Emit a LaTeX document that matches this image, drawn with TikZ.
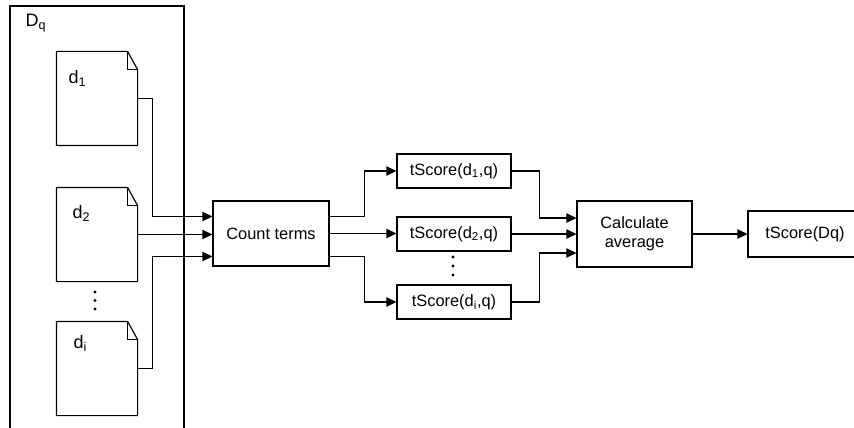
\documentclass[tikz,border=0pt]{standalone}
\usepackage{fontspec}
\setmainfont{Liberation Sans}
\usetikzlibrary{arrows.meta}
\begin{document}
\begin{tikzpicture}[x=0.75pt,y=-0.75pt,line width=0.85pt,
                    box/.style={draw,inner sep=2pt,align=center,font=\fontsize{12.3}{14.4}\selectfont},
                    score/.style={box,minimum width=85.5pt,minimum height=25.5pt},
                    docpage/.style={minimum width=60pt,minimum height=69.75pt,inner sep=0pt},
                    doclabel/.style={anchor=north west,inner sep=0pt,font=\fontsize{13.5}{16}\selectfont},
                    flow/.style={-{Triangle[length=7.5pt,width=7pt]}}]
                    \useasboundingbox (0,0) rectangle (854,428);
                    \clip (0,0) rectangle (854,428);
                    % collection of documents
                    \draw (10,440) -- (10,6) -- (184,6) -- (184,440);
                    \node[doclabel] (dq) at (25,14) {D\textsubscript{q}};
                    \node[docpage] (d1) at (97,98.5) {};
                    \node[docpage] (d2) at (97,234.5) {};
                    \node[docpage] (di) at (97,368.5) {};
                    \foreach \d in {d1,d2,di} {
                        \draw (\d.south west) -- (\d.north west) -- ([shift={(-10,0)}]\d.north east)
                              -- ([shift={(0,18)}]\d.north east) -- (\d.south east) -- cycle;
                        \draw ([shift={(-10,0)}]\d.north east) |- ([shift={(0,18)}]\d.north east);
                    }
                    \node[doclabel] (l1) at (68,70) {d\textsubscript{1}};
                    \node[doclabel] (l2) at (72,205) {d\textsubscript{2}};
                    \node[doclabel] (li) at (73,335) {d\textsubscript{i}};
                    \foreach \y in {292,300.5,309} \fill (95,\y) circle (1.3pt);
                    % processing steps
                    \node[box,minimum width=87pt,minimum height=48.75pt] (count) at (271,233.5) {Count terms};
                    \node[score] (s1) at (454,171) {tScore(d\textsubscript{1},q)};
                    \node[score] (s2) at (454,234) {tScore(d\textsubscript{2},q)};
                    \node[score] (si) at (454,302) {tScore(d\textsubscript{i},q)};
                    \foreach \y in {257,266,275} \fill (453,\y) circle (1.3pt);
                    \node[box,minimum width=86.25pt,minimum height=49.5pt] (avg) at (634.5,234) {Calculate\\average};
                    \node[box,minimum width=85.5pt,minimum height=34.5pt] (total) at (805,234) {tScore(Dq)};
                    % connectors
                    \draw[flow] (d1.east) -| ([shift={(-60,-17)}]count.west) -- ([shift={(0,-17)}]count.west);
                    \draw[flow] (d2.east) -- (d2.east -| count.west);
                    \draw[flow] (di.east) -| ([shift={(-60,23)}]count.west) -- ([shift={(0,23)}]count.west);
                    \draw[flow] ([shift={(0,-17)}]count.east) -| ([shift={(-32,0)}]s1.west) -- (s1.west);
                    \draw[flow] (count.east) -- (count.east -| s2.west);
                    \draw[flow] ([shift={(0,23)}]count.east) -| ([shift={(-32,0)}]si.west) -- (si.west);
                    \draw[flow] (s1.east) -| ([shift={(-37,-16)}]avg.west) -- ([shift={(0,-16)}]avg.west);
                    \draw[flow] (s2.east) -- (avg.west);
                    \draw[flow] (si.east) -| ([shift={(-37,19)}]avg.west) -- ([shift={(0,19)}]avg.west);
                    \draw[flow] (avg.east) -- (total.west);
                \end{tikzpicture}
\end{document}
